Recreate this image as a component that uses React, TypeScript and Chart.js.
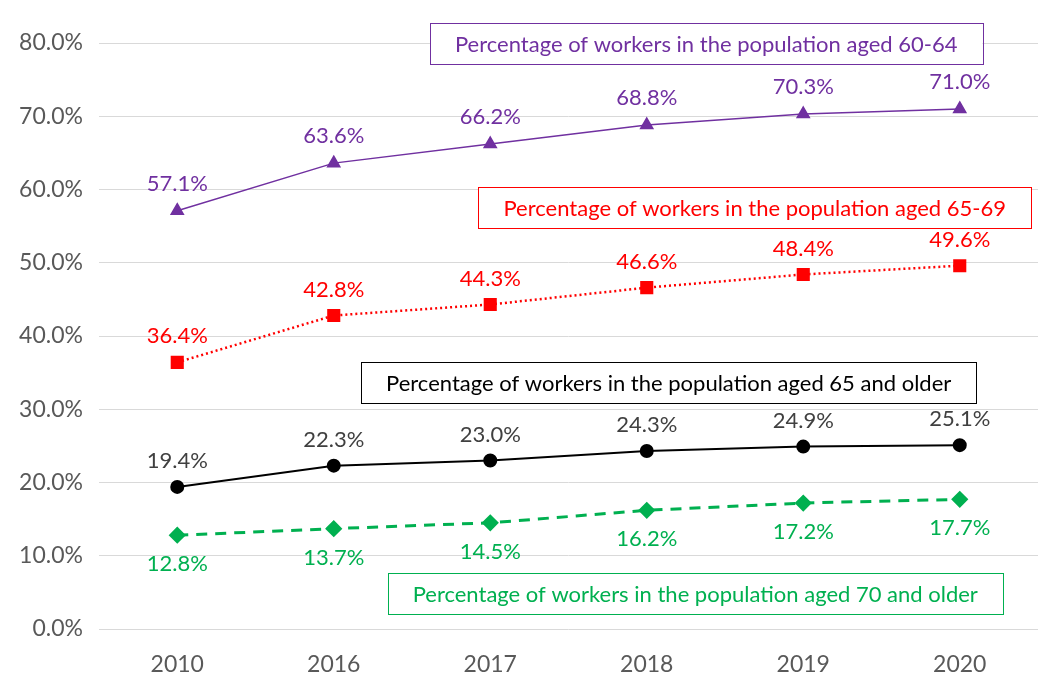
import React, { useEffect, useRef } from "react";
import { Chart, registerables } from "chart.js";

Chart.register(...registerables);

const categories = ["2010", "2016", "2017", "2018", "2019", "2020"];
const aged6064 = [57.1, 63.6, 66.2, 68.8, 70.3, 71.0];
const aged6569 = [36.4, 42.8, 44.3, 46.6, 48.4, 49.6];
const aged65plus = [19.4, 22.3, 23.0, 24.3, 24.9, 25.1];
const aged70plus = [12.8, 13.7, 14.5, 16.2, 17.2, 17.7];

const seriesNames = [
  "Percentage of workers in the population aged 60-64",
  "Percentage of workers in the population aged 65-69",
  "Percentage of workers in the population aged 65 and older",
  "Percentage of workers in the population aged 70 and older",
];
const seriesColors = ["#7030A0", "#FF0000", "#000000", "#00B050"];
const labelColors = ["#7030A0", "#FF0000", "#404040", "#00B050"];
const labelOffsets = [-27, -26, -26, 29];
// annotation boxes anchored in data space: [category index, value]
const boxAnchors = [
  [3.38, 79.9],
  [3.69, 57.5],
  [3.14, 33.6],
  [3.31, 4.85],
];

const FONT = "Lato, 'Open Sans', sans-serif";

const labelsPlugin = {
  id: "valueLabels",
  afterDatasetsDraw(chart: any) {
    const ctx = chart.ctx;
    ctx.save();
    ctx.font = `22px ${FONT}`;
    ctx.textAlign = "center";
    ctx.textBaseline = "middle";
    chart.data.datasets.forEach((ds: any, i: number) => {
      const meta = chart.getDatasetMeta(i);
      ctx.fillStyle = labelColors[i];
      meta.data.forEach((pt: any, j: number) => {
        ctx.fillText(ds.data[j].toFixed(1) + "%", pt.x, pt.y + labelOffsets[i]);
      });
    });
    ctx.restore();
  },
};

const boxesPlugin = {
  id: "nameBoxes",
  afterDraw(chart: any) {
    const ctx = chart.ctx;
    const xs = chart.scales.x;
    const ys = chart.scales.y;
    ctx.save();
    ctx.font = `22px ${FONT}`;
    ctx.textAlign = "center";
    ctx.textBaseline = "middle";
    seriesNames.forEach((name, i) => {
      const cx = xs.getPixelForValue(boxAnchors[i][0]);
      const cy = ys.getPixelForValue(boxAnchors[i][1]);
      const w = ctx.measureText(name).width + 50;
      const h = 41;
      ctx.fillStyle = "#FFFFFF";
      ctx.fillRect(cx - w / 2, cy - h / 2, w, h);
      ctx.strokeStyle = seriesColors[i];
      ctx.lineWidth = 1;
      ctx.strokeRect(Math.round(cx - w / 2) + 0.5, Math.round(cy - h / 2) + 0.5, Math.round(w), h);
      ctx.fillStyle = seriesColors[i];
      ctx.fillText(name, cx, cy + 1);
    });
    ctx.restore();
  },
};

export default function App() {
  const ref = useRef<HTMLCanvasElement>(null);
  useEffect(() => {
    document.body.style.margin = "0";
    const chart = new Chart(ref.current!, {
      type: "line",
      data: {
        labels: categories,
        datasets: [
          {
            label: seriesNames[0],
            data: aged6064,
            borderColor: seriesColors[0],
            backgroundColor: seriesColors[0],
            borderWidth: 1.5,
            pointStyle: "triangle",
            pointRadius: 7,
          },
          {
            label: seriesNames[1],
            data: aged6569,
            borderColor: seriesColors[1],
            backgroundColor: seriesColors[1],
            borderWidth: 2.5,
            borderDash: [2, 3],
            pointStyle: "rect",
            pointRadius: 7.5,
          },
          {
            label: seriesNames[2],
            data: aged65plus,
            borderColor: seriesColors[2],
            backgroundColor: seriesColors[2],
            borderWidth: 2,
            pointStyle: "circle",
            pointRadius: 6,
          },
          {
            label: seriesNames[3],
            data: aged70plus,
            borderColor: seriesColors[3],
            backgroundColor: seriesColors[3],
            borderWidth: 3,
            borderDash: [11, 8],
            pointStyle: "rectRot",
            pointRadius: 6.5,
          },
        ],
      },
      options: {
        responsive: false,
        animation: false,
        layout: { padding: { left: 0, right: 10, top: 43, bottom: 0 } },
        plugins: {
          legend: { display: false },
          tooltip: { enabled: false },
        },
        scales: {
          x: {
            offset: true,
            grid: { display: false, drawTicks: false, offset: true },
            border: { display: false },
            ticks: {
              color: "#595959",
              font: { family: FONT, size: 23 },
              padding: 22,
            },
            afterFit(scale: any) {
              scale.height = 64;
            },
          },
          y: {
            min: 0,
            max: 80,
            grid: { color: "#D9D9D9", lineWidth: 1, drawTicks: false },
            border: { display: false },
            ticks: {
              stepSize: 10,
              color: "#595959",
              font: { family: FONT, size: 23 },
              padding: 16,
              callback: (v: any) => Number(v).toFixed(1) + "%",
            },
            afterFit(scale: any) {
              scale.width = 99;
            },
          },
        },
      },
      plugins: [labelsPlugin, boxesPlugin],
    });
    return () => chart.destroy();
  }, []);
  return (
    <div style={{ position: "absolute", left: 0, top: 0, width: 1048, height: 693 }}>
      <canvas ref={ref} width={1048} height={693} />
    </div>
  );
}
